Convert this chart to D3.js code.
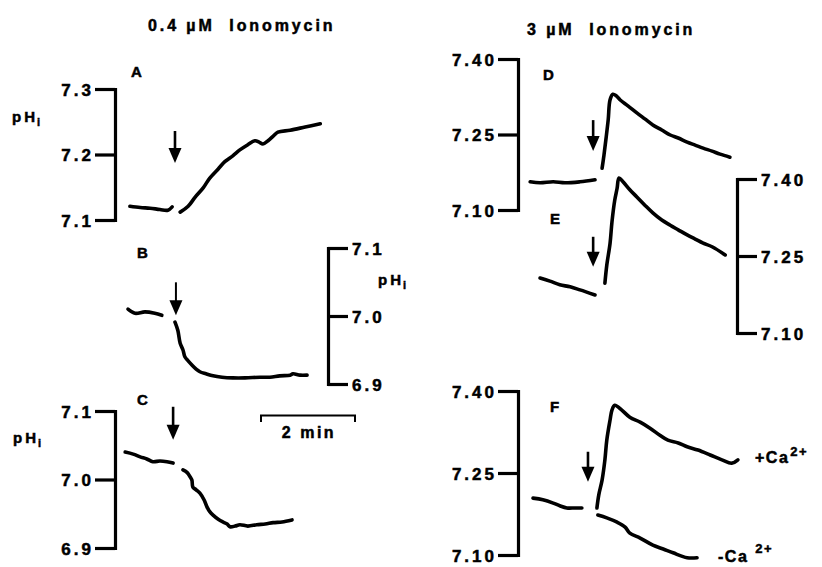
<!DOCTYPE html>
<html><head><meta charset="utf-8">
<script src="https://cdn.jsdelivr.net/npm/d3@7"></script>
<style>
html,body{margin:0;padding:0;background:#fff;}
svg{display:block;}
text{font-family:"Liberation Sans",Arial,Helvetica,sans-serif;font-weight:bold;fill:#000;stroke:#000;stroke-width:0.5px;white-space:pre;}
</style></head><body>
<svg id="c" width="822" height="567"></svg>
<script>
// ---------- DATA (time in min, pH units) ----------
const titles = ["0.4 \u00b5M  Ionomycin", "3 \u00b5M  Ionomycin"];
const panelNames = ["A","B","C","D","E","F"];
const ticksLeftCol = [[7.1,7.2,7.3],[6.9,7.0,7.1],[6.9,7.0,7.1]];
const ticksRightCol = [7.10,7.25,7.40];

// A
const A_pre_t  = [0.21,0.43,0.64,0.85,1.02,1.11];
const A_pre_pH = [7.121,7.119,7.118,7.116,7.115,7.120];
const A_post_t  = [1.28,1.45,1.60,1.77,1.91,2.09,2.23,2.40,2.55,2.72,2.87,2.96,3.04,3.15,3.26,3.36,3.62,3.94,4.26];
const A_post_pH = [7.112,7.121,7.135,7.149,7.164,7.178,7.189,7.198,7.207,7.215,7.221,7.219,7.216,7.221,7.228,7.234,7.237,7.242,7.247];
// B
const B_pre_t  = [0.17,0.32,0.53,0.74,0.89];
const B_pre_pH = [7.010,7.004,7.006,7.004,7.001];
const B_post_t  = [1.17,1.23,1.28,1.34,1.38,1.45,1.53,1.62,1.70,1.83,1.98,2.17,2.40,2.66,2.98,3.19,3.40,3.62,3.68,3.83,3.98];
const B_post_pH = [6.991,6.979,6.960,6.950,6.940,6.934,6.928,6.922,6.918,6.915,6.912,6.910,6.909,6.909,6.910,6.910,6.912,6.913,6.915,6.913,6.913];
// C
const C_pre_t  = [0.11,0.28,0.43,0.57,0.70,0.85,1.00,1.13];
const C_pre_pH = [7.040,7.037,7.033,7.030,7.026,7.027,7.026,7.024];
const C_post_t  = [1.34,1.43,1.49,1.53,1.55,1.62,1.70,1.79,1.85,1.91,1.98,2.09,2.19,2.28,2.34,2.45,2.55,2.72,2.91,3.09,3.26,3.45,3.66];
const C_post_pH = [7.014,7.010,7.004,6.999,6.989,6.985,6.980,6.970,6.960,6.953,6.948,6.942,6.938,6.935,6.931,6.932,6.934,6.932,6.934,6.935,6.937,6.938,6.941];
// D
const D_pre_t  = [0.11,0.32,0.60,0.85,1.17,1.49];
const D_pre_pH = [7.156,7.154,7.156,7.154,7.156,7.160];
const D_post_t  = [1.64,1.68,1.72,1.77,1.81,1.87,1.94,2.02,2.19,2.38,2.55,2.72,2.91,3.09,3.26,3.45,3.62,3.79,3.98,4.15,4.36];
const D_post_pH = [7.183,7.209,7.239,7.279,7.319,7.330,7.327,7.319,7.307,7.293,7.281,7.269,7.259,7.249,7.243,7.235,7.229,7.223,7.217,7.211,7.205];
// E
const E_pre_t  = [0.32,0.53,0.74,0.96,1.17,1.49];
const E_pre_pH = [7.207,7.201,7.194,7.190,7.184,7.174];
const E_post_t  = [1.70,1.74,1.81,1.85,1.91,1.96,2.00,2.09,2.23,2.38,2.55,2.72,2.91,3.09,3.26,3.45,3.62,3.79,3.98,4.26];
const E_post_pH = [7.197,7.232,7.275,7.316,7.359,7.382,7.402,7.394,7.379,7.365,7.349,7.334,7.320,7.310,7.301,7.291,7.283,7.275,7.268,7.252];
// F
const F_pre_t  = [0.17,0.38,0.60,0.74,0.89,1.06,1.21];
const F_pre_pH = [7.204,7.201,7.195,7.190,7.186,7.186,7.186];
const F_plusCa_t  = [1.53,1.57,1.64,1.70,1.74,1.81,1.85,1.91,2.06,2.23,2.45,2.66,2.87,3.04,3.26,3.45,3.68,3.94,4.19,4.40,4.53];
const F_plusCa_pH = [7.186,7.210,7.237,7.274,7.310,7.347,7.365,7.374,7.365,7.352,7.343,7.332,7.319,7.310,7.305,7.298,7.292,7.283,7.274,7.268,7.274];
const F_minusCa_t  = [1.55,1.74,1.96,2.13,2.23,2.45,2.72,2.94,3.15,3.45,3.66];
const F_minusCa_pH = [7.173,7.168,7.160,7.151,7.140,7.131,7.118,7.111,7.104,7.095,7.095];

// ionomycin addition: time (min) and pH at arrow tip
const arrow_t  = [1.17,1.19,1.13,1.45,1.45,1.34];
const arrow_pH = [7.187,7.001,7.058,7.217,7.229,7.234];
const scaleBarMin = [3,5];

// ---------- LAYOUT ----------
const svg = d3.select("#c");
const xLeft  = d3.scaleLinear().domain([0,5]).range([120,355]);
const xRight = d3.scaleLinear().domain([0,5]).range([525,760]);

const layout = {
  A:{x:xLeft, ax:115, yr:[220,89], dom:[7.1,7.3], side:"left", ticks:ticksLeftCol[0], fmt:".1f",
     letter:[131,77], segs:[[A_pre_t,A_pre_pH],[A_post_t,A_post_pH]], alen:32},
  B:{x:xLeft, ax:328, yr:[384,248], dom:[6.9,7.1], side:"right", ticks:ticksLeftCol[1], fmt:".1f",
     letter:[137,258], segs:[[B_pre_t,B_pre_pH],[B_post_t,B_post_pH]], alen:33, thin:true},
  C:{x:xLeft, ax:115, yr:[548,411], dom:[6.9,7.1], side:"left", ticks:ticksLeftCol[2], fmt:".1f",
     letter:[137,405], segs:[[C_pre_t,C_pre_pH],[C_post_t,C_post_pH]], alen:33},
  D:{x:xRight, ax:518, yr:[210,59], dom:[7.10,7.40], side:"left", ticks:ticksRightCol, fmt:".2f",
     letter:[543,80], segs:[[D_pre_t,D_pre_pH],[D_post_t,D_post_pH]], alen:31},
  E:{x:xRight, ax:737, yr:[333,179], dom:[7.10,7.40], side:"right", ticks:ticksRightCol, fmt:".2f",
     letter:[550,224], segs:[[E_pre_t,E_pre_pH],[E_post_t,E_post_pH]], alen:30},
  F:{x:xRight, ax:518, yr:[555,391], dom:[7.10,7.40], side:"left", ticks:ticksRightCol, fmt:".2f",
     letter:[550,412], segs:[[F_pre_t,F_pre_pH],[F_plusCa_t,F_plusCa_pH],[F_minusCa_t,F_minusCa_pH]], alen:30}
};

// titles
svg.append("text").attr("x",148).attr("y",31).attr("font-size",16).attr("letter-spacing",2.9).text(titles[0]);
svg.append("text").attr("x",527).attr("y",35).attr("font-size",16).attr("letter-spacing",2.9).text(titles[1]);

panelNames.forEach((name,i)=>{
  const L = layout[name];
  const y = d3.scaleLinear().domain(L.dom).range(L.yr);
  const g = svg.append("g");
  const axis = (L.side==="left"? d3.axisLeft(y) : d3.axisRight(y))
      .tickValues(L.ticks).tickSize(20).tickSizeOuter(0)
      .tickPadding(4).tickFormat(d3.format(L.fmt));
  const ag = g.append("g").attr("transform",`translate(${L.ax},0)`).call(axis);
  ag.select(".domain").attr("stroke","#000").attr("stroke-width",3.2).attr("stroke-linecap","square");
  ag.selectAll(".tick line").attr("stroke","#000").attr("stroke-width",3.2);
  ag.selectAll(".tick text").attr("font-family","Liberation Sans, Arial, sans-serif")
    .attr("font-weight","bold").attr("font-size",17).attr("letter-spacing",3)
    .attr("dy", "0.36em")
    .attr("dx", L.side==="left"? 3 : 0).attr("fill","#000");
  ag.attr("font-size",17);

  // letter
  g.append("text").attr("x",L.letter[0]).attr("y",L.letter[1]).attr("font-size",15).text(name);

  // traces
  const line = d3.line().x(d=>L.x(d[0])).y(d=>y(d[1])).curve(d3.curveCatmullRom.alpha(0.5));
  L.segs.forEach(([ts,ps])=>{
    g.append("path").datum(ts.map((t,k)=>[t,ps[k]]))
      .attr("d",line).attr("fill","none").attr("stroke","#000")
      .attr("stroke-width",3.6).attr("stroke-linejoin","round").attr("stroke-linecap","round");
  });

  // arrow
  const ax = L.x(arrow_t[i]), tip = y(arrow_pH[i]);
  const hh = 15, hw = 6.5;
  g.append("line").attr("x1",ax).attr("x2",ax).attr("y1",tip-L.alen).attr("y2",tip-hh+2)
    .attr("stroke","#000").attr("stroke-width",L.thin?2:2.6);
  g.append("path").attr("d",`M${ax-hw},${tip-hh}L${ax+hw},${tip-hh}L${ax},${tip}Z`).attr("fill","#000");
});

// pH axis labels
function phLabel(x,yb){
  const t = svg.append("text").attr("x",x).attr("y",yb).attr("font-size",15).attr("letter-spacing",3);
  t.append("tspan").text("pH");
  t.append("tspan").attr("font-size",11).attr("dy",4).attr("dx",-1).text("i");
}
phLabel(12,122);
phLabel(378,285);
phLabel(13,443);

// Ca labels
const ca1 = svg.append("text").attr("x",755).attr("y",463).attr("font-size",16).attr("letter-spacing",1.5);
ca1.append("tspan").text("+Ca");
ca1.append("tspan").attr("font-size",13).attr("dy",-7).attr("dx",1).text("2+");
const ca2 = svg.append("text").attr("x",718).attr("y",562).attr("font-size",16).attr("letter-spacing",1.5);
ca2.append("tspan").text("-Ca");
ca2.append("tspan").attr("font-size",13).attr("dy",-9).attr("dx",7).text("2+");

// time scale bar (2 min)
const sb0 = xLeft(scaleBarMin[0]), sb1 = xLeft(scaleBarMin[1]);
svg.append("path").attr("d",`M${sb0},422V415.5H${sb1}V422`).attr("fill","none")
  .attr("stroke","#000").attr("stroke-width",2);
svg.append("text").attr("x",(sb0+sb1)/2+1).attr("y",438).attr("text-anchor","middle")
  .attr("font-size",16).attr("letter-spacing",2.5).text("2 min");
</script>
</body></html>
